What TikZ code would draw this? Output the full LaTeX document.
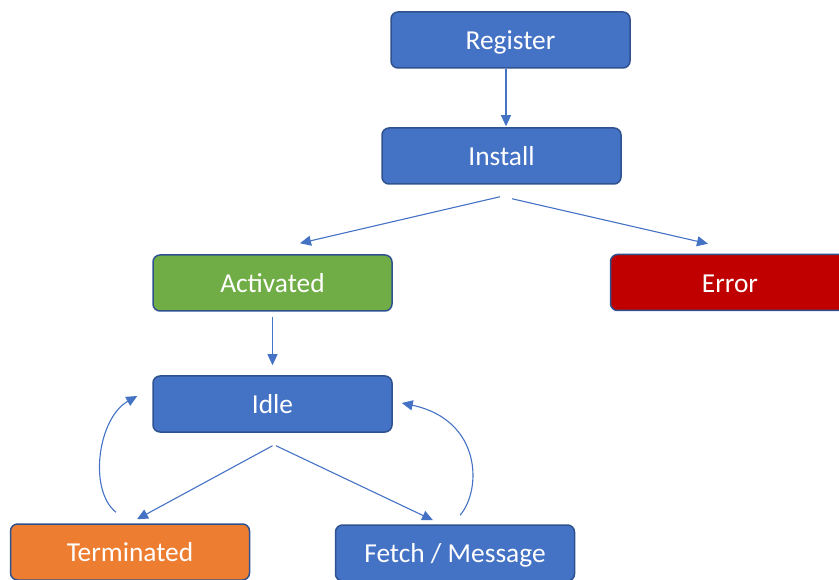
\documentclass[tikz,border=0pt]{standalone}
\usepackage{fontspec}
\setmainfont{Carlito}
\usetikzlibrary{arrows.meta,calc}
\definecolor{boxblue}{HTML}{4472C4}
\definecolor{boxedge}{HTML}{2F528F}
\definecolor{boxgreen}{HTML}{70AD47}
\definecolor{boxorange}{HTML}{ED7D31}
\definecolor{boxred}{HTML}{C00000}
\tikzset{
  state/.style={rectangle, rounded corners=7pt, draw=boxedge, line width=1.5pt,
    minimum width=239pt, minimum height=56pt, inner sep=0pt, text=white,
    text height=19.2pt, text depth=0pt,
    font=\fontsize{27.4}{30}\selectfont},
  flow/.style={draw=boxblue, line width=1.1pt,
    -{Triangle[length=11pt,width=10pt]}}
}
\begin{document}
\begin{tikzpicture}[x=1pt,y=-1pt]
\useasboundingbox (0,0) rectangle (839,580);
\clip (0,0) rectangle (839,580);

% states
\node[state, fill=boxblue]   (reg)   at (510.5,40)  {Register};
\node[state, fill=boxblue]   (inst)  at (501.5,156) {Install};
\node[state, fill=boxgreen]  (act)   at (272.5,283) {Activated};
\node[state, fill=boxred]    (err)   at (730,282.5) {Error};
\node[state, fill=boxblue]   (idle)  at (272.5,404) {Idle};
\node[state, fill=boxorange] (term)  at (130,552)   {Terminated};
\node[state, fill=boxblue]   (fetch) at (455,553)   {Fetch / Message};

% transitions
\draw[flow] ($(reg.south)+(-4.5,0)$) -- ($(inst.north)+(4.5,-1)$);
\draw[flow] ($(inst.south)+(-1.5,12)$) -- ($(act.north)+(27.5,-11)$);
\draw[flow] ($(inst.south)+(10.5,14)$) -- ($(err.north)+(-22,-10)$);
\draw[flow] ($(act.south)+(0,5)$) -- ($(idle.north)+(0,-10)$);
\draw[flow] ($(idle.south)+(0,13)$) -- ($(term.north)+(7,-4)$);
\draw[flow] ($(idle.south)+(3.5,13)$) -- ($(fetch.north)+(-22,-4)$);

% loops back to idle
\draw[flow] ($(term.north)+(-14,-11)$) .. controls (88,490) and (98,418) .. ($(idle.west)+(-15,-8)$);
\draw[flow] ($(fetch.north)+(5,-9)$) .. controls (482,490) and (482,420) .. ($(idle.east)+(9,-1)$);
\end{tikzpicture}
\end{document}
